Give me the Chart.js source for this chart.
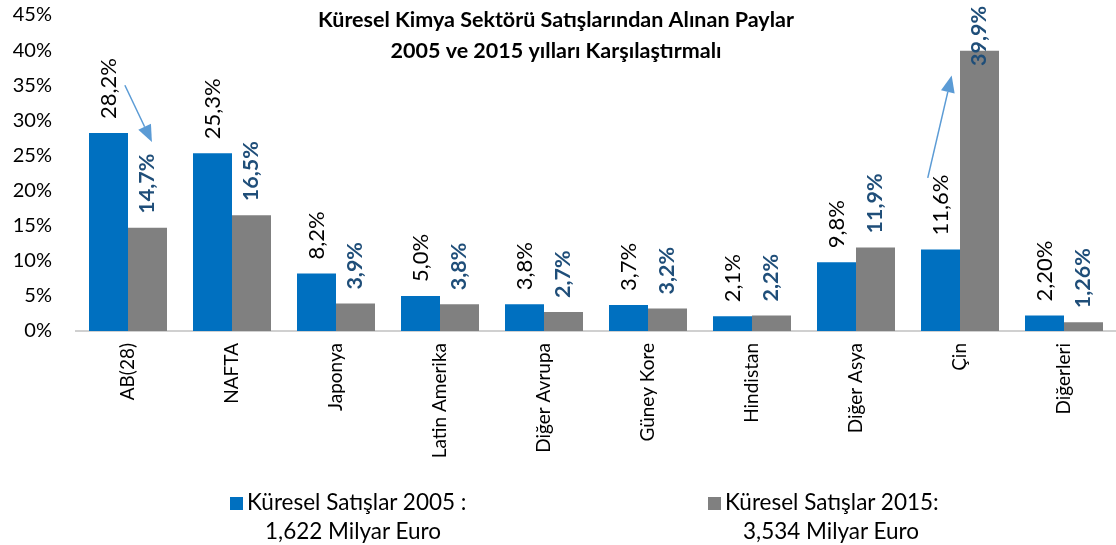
<!DOCTYPE html>
<html lang="tr">
<head>
    <meta charset="UTF-8">
    <title>Küresel Kimya Sektörü Satışları</title>
    <style>
        body { margin: 0; background: #fff; }
        .wrap { position: relative; width: 1116px; height: 545px; }
        .legend { position: absolute; font-family: Lato, sans-serif; font-size: 22.5px; color: #000; line-height: 29px; }
        .legend .box { display: inline-block; width: 13px; height: 13px; margin-right: 4px; vertical-align: 0px; }
        .legend .sub { padding-left: 35px; }
    </style>
</head>
<body>
<div class="wrap">
    <canvas id="myChart" width="1116" height="545"></canvas>
    <div class="legend" id="leg0" style="left:230px;top:487px;"></div>
    <div class="legend" id="leg1" style="left:708px;top:487px;"></div>
</div>

<script src="https://cdn.jsdelivr.net/npm/chart.js"></script>
<script>
    const categories = ['AB(28)', 'NAFTA', 'Japonya', 'Latin Amerika', 'Diğer Avrupa', 'Güney Kore', 'Hindistan', 'Diğer Asya', 'Çin', 'Diğerleri'];
    const sales2005 = [28.2, 25.3, 8.2, 5.0, 3.8, 3.7, 2.1, 9.8, 11.6, 2.2];
    const sales2015 = [14.7, 16.5, 3.9, 3.8, 2.7, 3.2, 2.2, 11.9, 39.9, 1.26];
    const labels2005 = ['28,2%', '25,3%', '8,2%', '5,0%', '3,8%', '3,7%', '2,1%', '9,8%', '11,6%', '2,20%'];
    const labels2015 = ['14,7%', '16,5%', '3,9%', '3,8%', '2,7%', '3,2%', '2,2%', '11,9%', '39,9%', '1,26%'];
    const seriesNames = ['Küresel Satışlar 2005 :', 'Küresel Satışlar 2015:'];
    const seriesTotals = ['1,622 Milyar Euro', '3,534 Milyar Euro'];
    const titleLines = ['Küresel Kimya Sektörü Satışlarından Alınan Paylar', '2005 ve 2015 yılları Karşılaştırmalı'];
    // arrows in data space: [category index, value]
    const arrows = [
        {from: [-0.03, 35.0], to: [0.23, 26.9]},
        {from: [7.69, 21.8], to: [7.92, 36.4]}
    ];

    const FONT = 'Lato, sans-serif';

    const barLabels = {
        id: 'barLabels',
        afterDatasetsDraw(chart) {
            const ctx = chart.ctx;
            chart.data.datasets.forEach((ds, i) => {
                const meta = chart.getDatasetMeta(i);
                ctx.save();
                ctx.font = (i === 1 ? 'bold 21.5px ' : '22px ') + FONT;
                ctx.fillStyle = i === 1 ? '#1F4E79' : '#000';
                meta.data.forEach((bar, j) => {
                    const txt = ds.valueLabels[j];
                    const w = ctx.measureText(txt).width;
                    let y = bar.y - 14;
                    if (y - w < 6) y = 6 + w;
                    ctx.save();
                    ctx.translate(bar.x, y);
                    ctx.rotate(-Math.PI / 2);
                    ctx.textAlign = 'left';
                    ctx.textBaseline = 'middle';
                    ctx.fillText(txt, 0, 0);
                    ctx.restore();
                });
                ctx.restore();
            });
        }
    };

    const overlay = {
        id: 'overlay',
        afterDraw(chart) {
            const ctx = chart.ctx;
            const xs = chart.scales.x, ys = chart.scales.y;
            ctx.save();
            ctx.strokeStyle = '#5B9BD5';
            ctx.fillStyle = '#5B9BD5';
            ctx.lineWidth = 1.5;
            arrows.forEach(a => {
                const x1 = xs.getPixelForValue(a.from[0]), y1 = ys.getPixelForValue(a.from[1]);
                const x2 = xs.getPixelForValue(a.to[0]), y2 = ys.getPixelForValue(a.to[1]);
                const ang = Math.atan2(y2 - y1, x2 - x1);
                const hl = 17, hw = 7;
                const bx = x2 - hl * Math.cos(ang), by = y2 - hl * Math.sin(ang);
                ctx.beginPath();
                ctx.moveTo(x1, y1);
                ctx.lineTo(bx, by);
                ctx.stroke();
                ctx.beginPath();
                ctx.moveTo(x2, y2);
                ctx.lineTo(bx + hw * Math.sin(ang), by - hw * Math.cos(ang));
                ctx.lineTo(bx - hw * Math.sin(ang), by + hw * Math.cos(ang));
                ctx.closePath();
                ctx.fill();
            });
            ctx.fillStyle = '#000';
            ctx.font = 'bold 21.5px ' + FONT;
            ctx.textAlign = 'center';
            ctx.textBaseline = 'middle';
            titleLines.forEach((t, k) => ctx.fillText(t, 556, 20 + k * 31));
            ctx.restore();
        }
    };

    function init() {
        let ctx = document.getElementById('myChart').getContext('2d');
        new Chart(ctx, {
            type: 'bar',
            data: {
                labels: categories,
                datasets: [
                    {
                        label: seriesNames[0],
                        data: sales2005,
                        valueLabels: labels2005,
                        backgroundColor: '#0070C0',
                        borderWidth: 0
                    },
                    {
                        label: seriesNames[1],
                        data: sales2015,
                        valueLabels: labels2015,
                        backgroundColor: '#808080',
                        borderWidth: 0
                    }
                ]
            },
            options: {
                responsive: false,
                animation: false,
                layout: {padding: {top: 15, right: 0, left: 0, bottom: 0}},
                datasets: {bar: {categoryPercentage: 0.75, barPercentage: 1}},
                plugins: {
                    legend: {display: false},
                    tooltip: {enabled: false}
                },
                scales: {
                    x: {
                        grid: {display: false, drawTicks: false},
                        border: {color: '#D0D0D0', width: 2},
                        ticks: {
                            color: '#000',
                            font: {family: FONT, size: 19},
                            minRotation: 90,
                            maxRotation: 90,
                            padding: 12
                        },
                        afterFit: s => { s.height = 214; }
                    },
                    y: {
                        min: 0,
                        max: 45,
                        grid: {display: false, drawTicks: false},
                        border: {display: false},
                        ticks: {
                            stepSize: 5,
                            color: '#000',
                            font: {family: FONT, size: 20},
                            padding: 24,
                            callback: v => v + '%'
                        },
                        afterFit: s => {
                            s.width = 76;
                            s.paddingTop = 10;
                            s.paddingBottom = 0;
                        }
                    }
                }
            },
            plugins: [barLabels, overlay]
        });

        const colors = ['#0070C0', '#808080'];
        [0, 1].forEach(i => {
            document.getElementById('leg' + i).innerHTML =
                '<div><span class="box" style="background:' + colors[i] + '"></span>' + seriesNames[i] + '</div>' +
                '<div class="sub">' + seriesTotals[i] + '</div>';
        });
    }

    document.addEventListener('DOMContentLoaded', init);
</script>
</body>
</html>
